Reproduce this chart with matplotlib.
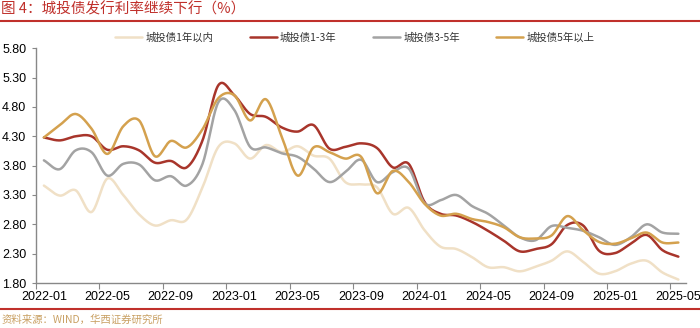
import matplotlib
matplotlib.use("Agg")
import matplotlib.pyplot as plt
import numpy as np

plt.rcParams["font.family"] = ["Liberation Sans", "Noto Sans CJK SC", "DejaVu Sans"]

# monthly data, 2022-01 .. 2025-05
months = ["%d-%02d" % (2022 + m // 12, m % 12 + 1) for m in range(41)]

series_names = ["城投债1年以内", "城投债1-3年", "城投债3-5年", "城投债5年以上"]

y_1y = [3.46, 3.29, 3.38, 3.01, 3.58, 3.30, 2.97, 2.78, 2.87, 2.88,
        3.43, 4.12, 4.18, 3.92, 4.15, 4.03, 4.13, 3.97, 3.92, 3.52,
        3.48, 3.43, 2.98, 3.08, 2.70, 2.42, 2.38, 2.24, 2.07, 2.07,
        2.00, 2.08, 2.18, 2.34, 2.16, 1.96, 2.00, 2.13, 2.18, 1.98,
        1.86]
y_1_3 = [4.28, 4.23, 4.30, 4.30, 4.07, 4.13, 4.06, 3.85, 3.88, 3.77,
         4.23, 5.17, 5.00, 4.68, 4.63, 4.45, 4.38, 4.49, 4.09, 4.12,
         4.18, 4.10, 3.77, 3.83, 3.18, 2.98, 2.95, 2.84, 2.69, 2.52,
         2.34, 2.38, 2.46, 2.79, 2.78, 2.35, 2.31, 2.47, 2.62, 2.36,
         2.25]
y_3_5 = [3.89, 3.74, 4.06, 4.03, 3.63, 3.83, 3.82, 3.55, 3.62, 3.46,
         3.83, 4.88, 4.75, 4.12, 4.11, 4.01, 3.95, 3.75, 3.52, 3.69,
         3.90, 3.52, 3.69, 3.75, 3.16, 3.21, 3.30, 3.11, 2.98, 2.78,
         2.58, 2.53, 2.77, 2.74, 2.69, 2.58, 2.45, 2.58, 2.80, 2.66,
         2.64]
y_5p = [4.28, 4.49, 4.68, 4.43, 4.00, 4.47, 4.57, 3.96, 4.22, 4.11,
        4.42, 4.95, 5.00, 4.57, 4.93, 4.29, 3.63, 4.11, 4.03, 3.92,
        3.95, 3.33, 3.71, 3.52, 3.15, 2.95, 2.98, 2.89, 2.84, 2.75,
        2.58, 2.56, 2.61, 2.94, 2.70, 2.50, 2.47, 2.56, 2.66, 2.49,
        2.49]

colors = ["#F0E0C6", "#A8352B", "#A3A3A3", "#D4A14E"]


def smooth(x, y, n=20):
    # catmull-rom curve through the points (like excel smoothed lines)
    x = np.asarray(x, float)
    y = np.asarray(y, float)
    px = np.concatenate([[2 * x[0] - x[1]], x, [2 * x[-1] - x[-2]]])
    py = np.concatenate([[2 * y[0] - y[1]], y, [2 * y[-1] - y[-2]]])
    xs, ys = [], []
    t = np.linspace(0, 1, n, endpoint=False)
    for i in range(1, len(px) - 2):
        for p, out in ((px, xs), (py, ys)):
            p0, p1, p2, p3 = p[i - 1], p[i], p[i + 1], p[i + 2]
            out.extend(0.5 * (2 * p1 + (-p0 + p2) * t
                              + (2 * p0 - 5 * p1 + 4 * p2 - p3) * t ** 2
                              + (-p0 + 3 * p1 - 3 * p2 + p3) * t ** 3))
    xs.append(x[-1])
    ys.append(y[-1])
    return np.array(xs), np.array(ys)


fig = plt.figure(figsize=(7, 3.28), dpi=100)
ax = fig.add_axes([0.0514, 0.137, 0.929, 0.716])

x = np.arange(len(months))
for name, vals, c in zip(series_names, [y_1y, y_1_3, y_3_5, y_5p], colors):
    sx, sy = smooth(x, vals)
    ax.plot(sx, sy, color=c, lw=1.8, label=name, solid_capstyle="round")

ax.set_xlim(-0.5, 40.5)
ax.set_ylim(1.8, 5.8)
ax.set_yticks(np.arange(1.8, 5.81, 0.5))
ax.set_yticklabels(["%.2f" % v for v in np.arange(1.8, 5.81, 0.5)], fontsize=9)

# ticks between categories, labels on every 4th month
ax.set_xticks(np.arange(-0.5, 40, 4))
ax.set_xticklabels([])
ax.set_xticks(x[::4], minor=True)
ax.set_xticklabels(months[::4], minor=True, fontsize=9)
ax.tick_params(axis="x", which="major", length=4, color="#888888")
ax.tick_params(axis="x", which="minor", length=0, pad=6)
ax.tick_params(axis="y", length=3, color="#888888", pad=4)

for s in ["top", "right"]:
    ax.spines[s].set_visible(False)
for s in ["left", "bottom"]:
    ax.spines[s].set_color("#888888")
    ax.spines[s].set_linewidth(1)

leg = ax.legend(loc="lower left", bbox_to_anchor=(0.1215, 1.022), ncol=4, frameon=False,
                handlelength=2.6, handletextpad=0.3, columnspacing=3.5,
                borderaxespad=0, borderpad=0,
                prop={"family": ["Noto Sans CJK SC"], "size": 7.5})
for t in leg.get_texts():
    t.set_color("#333333")

# title and source with red rules
fig.text(0.002, 0.972, "图 4：城投债发行利率继续下行（%）", fontsize=10.5, color="#C0302B",
         family=["Noto Sans CJK SC"], va="center", ha="left")
fig.add_artist(plt.Line2D([0, 1], [0.935, 0.935], color="#C0302B", lw=1.5))
fig.add_artist(plt.Line2D([0, 1], [0.057, 0.057], color="#C0302B", lw=1.5))
fig.text(0.002, 0.024, "资料来源：WIND，华西证券研究所", fontsize=7.5, color="#C9A063",
         family=["Noto Sans CJK SC"], va="center", ha="left")

fig.savefig("out.png", dpi=100)
